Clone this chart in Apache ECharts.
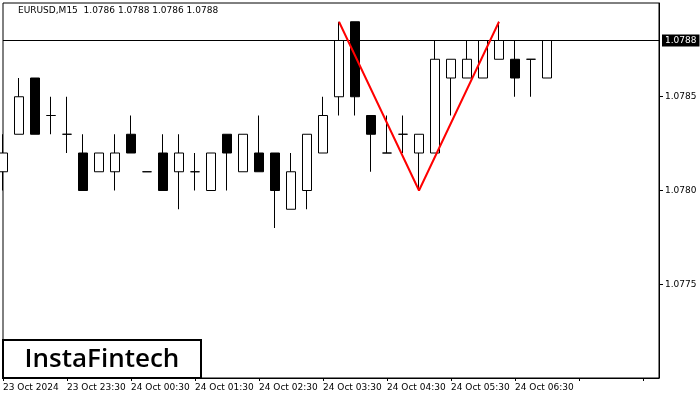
<!DOCTYPE html>
<html><head><meta charset="utf-8">
<script src="https://cdn.jsdelivr.net/npm/echarts@6/dist/echarts.min.js"></script>
<style>html,body{margin:0;padding:0;background:#fff}#c{width:700px;height:400px}</style>
</head><body><div id="c"></div>
<script>
const times = ["22:30","22:45","23:00","23:15","23:30","23:45","00:00","00:15","00:30","00:45","01:00","01:15","01:30","01:45","02:00","02:15","02:30","02:45","03:00","03:15","03:30","03:45","04:00","04:15","04:30","04:45","05:00","05:15","05:30","05:45","06:00","06:15","06:30","06:45","07:00","07:15","07:30","07:45","08:00","08:15","08:30","08:45"];
const dayOf = i => i < 6 ? "23 Oct" : "24 Oct";
// [open, close, low, high]
const ohlc = [
[1.0781,1.0782,1.0780,1.0783],[1.0783,1.0785,1.0783,1.0786],[1.0786,1.0783,1.0783,1.0786],[1.0784,1.0784,1.0783,1.0785],
[1.0783,1.0783,1.0782,1.0785],[1.0782,1.0780,1.0780,1.0783],[1.0781,1.0782,1.0781,1.0782],[1.0781,1.0782,1.0780,1.0783],
[1.0783,1.0782,1.0782,1.0784],[1.0781,1.0781,1.0781,1.0781],[1.0782,1.0780,1.0780,1.0783],[1.0781,1.0782,1.0779,1.0783],
[1.0781,1.0781,1.0780,1.0782],[1.0780,1.0782,1.0780,1.0782],[1.0783,1.0782,1.0780,1.0783],[1.0781,1.0783,1.0781,1.0783],
[1.0782,1.0781,1.0781,1.0784],[1.0782,1.0780,1.0778,1.0782],[1.0779,1.0781,1.0779,1.0782],[1.0780,1.0783,1.0779,1.0783],
[1.0782,1.0784,1.0782,1.0785],[1.0785,1.0788,1.0784,1.0789],[1.0789,1.0785,1.0784,1.0789],[1.0784,1.0783,1.0781,1.0784],
[1.0782,1.0782,1.0782,1.0784],[1.0783,1.0783,1.0782,1.0784],[1.0782,1.0783,1.0780,1.0783],[1.0782,1.0787,1.0782,1.0788],
[1.0786,1.0787,1.0784,1.0787],[1.0786,1.0787,1.0786,1.0788],[1.0786,1.0788,1.0786,1.0788],[1.0787,1.0788,1.0787,1.0789],
[1.0787,1.0786,1.0785,1.0788],[1.0787,1.0787,1.0785,1.0787],[1.0786,1.0788,1.0786,1.0788]
];
const pattern = [[21,1.0789],[26,1.0780],[31,1.0789]];
const lastPrice = 1.0788;
const title = "EURUSD,M15  1.0786 1.0788 1.0786 1.0788";

const font = "DejaVu Sans";
const chart = echarts.init(document.getElementById('c'));
chart.setOption({
  animation:false,
  grid:{left:3,right:41,top:3,bottom:22,outerBoundsMode:'none',containLabel:false,show:true,borderColor:'#000',borderWidth:1},
  xAxis:{type:'category',data:times,boundaryGap:false,
    axisLine:{lineStyle:{color:'#000'}},
    axisTick:{interval:3,length:3,lineStyle:{color:'#000'}},
    axisLabel:{interval:3,align:'left',color:'#000',fontFamily:font,fontSize:9,margin:5,
      formatter:(v,i)=> i===0 ? "23 Oct 2024" : (i>32 ? "" : dayOf(i)+" "+v)},
    splitLine:{show:false}},
  yAxis:{type:'value',position:'right',min:1.0770,max:1.0790,interval:0.0005,
    axisLine:{show:true,lineStyle:{color:'#000'}},
    axisTick:{show:true,length:4,lineStyle:{color:'#000'}},
    axisLabel:{showMinLabel:false,showMaxLabel:false,color:'#000',fontFamily:font,fontSize:9,margin:6,
      formatter:v=>v.toFixed(4)},
    splitLine:{show:false}},
  series:[
    {type:'candlestick',data:ohlc,barWidth:10,
      itemStyle:{color:'#fff',color0:'#000',borderColor:'#000',borderColor0:'#000',borderWidth:1}},
    {type:'line',data:pattern,symbol:'none',lineStyle:{color:'#ff0000',width:2},z:5,
      markLine:{symbol:['none','none'],silent:true,animation:false,
        lineStyle:{color:'#000',type:'solid',width:1},
        label:{show:true,position:'end',formatter:()=>lastPrice.toFixed(4),backgroundColor:'#000',color:'#fff',
          fontFamily:font,fontSize:9,padding:[2,3,1,3],distance:3},
        data:[[{coord:[times[0],lastPrice]},{coord:[times[times.length-1],lastPrice]}]]}}
  ],
  graphic:[
    {type:'text',left:18,top:6,style:{text:title,fontFamily:font,fontSize:9,fill:'#000'}},
    {type:'rect',shape:{x:3,y:340,width:198,height:38},style:{fill:'#fff',stroke:'#000',lineWidth:2},z:10},
    {type:'text',x:102,y:360,style:{text:'InstaFintech',fontFamily:'Open Sans',fontWeight:600,fontSize:26,fill:'#000',align:'center',verticalAlign:'middle'},z:11}
  ]
});
</script></body></html>
